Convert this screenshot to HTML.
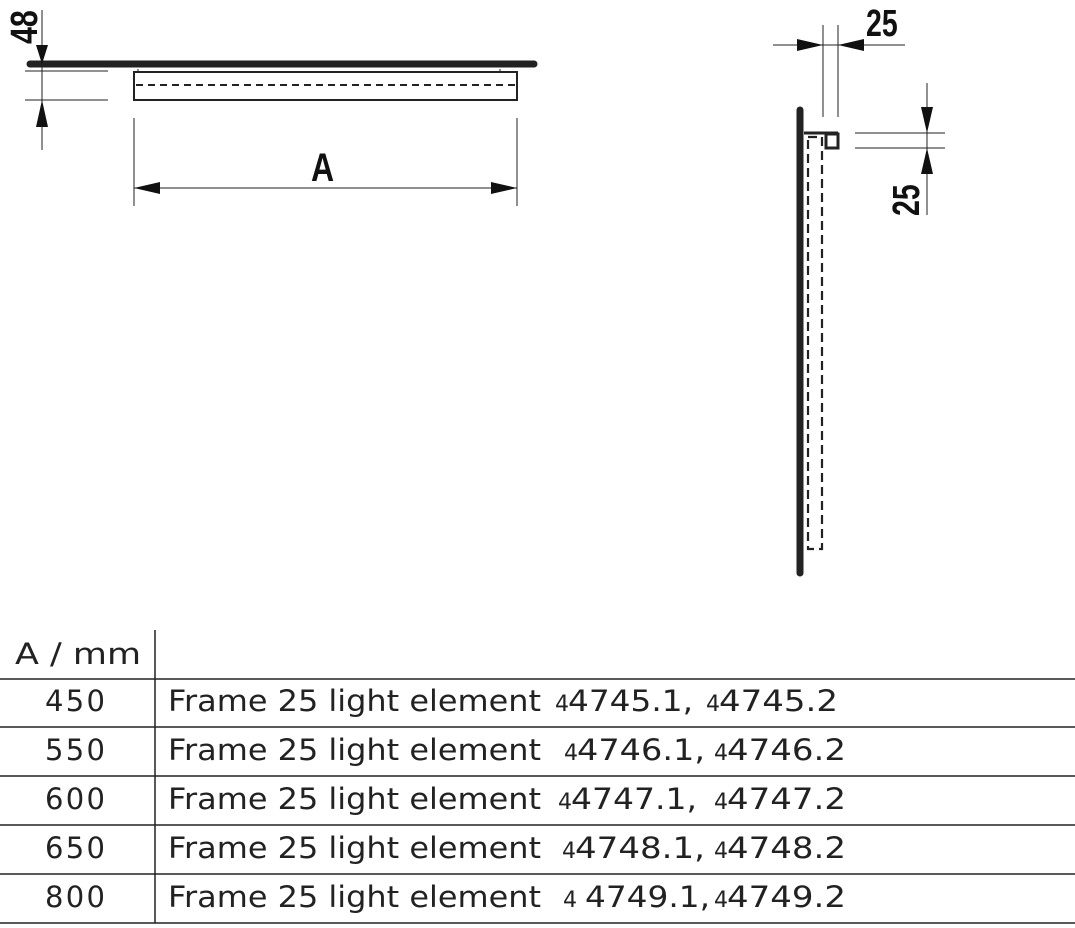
<!DOCTYPE html>
<html><head><meta charset="utf-8"><style>
html,body{margin:0;padding:0;background:#fff;}
svg{display:block;}
.t{font-family:"DejaVu Sans","Liberation Sans",sans-serif;font-size:29px;fill:#222;}
.s{font-size:22px;}
.b{font-family:"Liberation Sans",sans-serif;font-weight:bold;fill:#111;}
</style></head><body>
<svg width="1075" height="928" viewBox="0 0 1075 928" xmlns="http://www.w3.org/2000/svg">
<g stroke="#222" fill="none">
 <line x1="30" y1="64" x2="534" y2="64" stroke-width="7" stroke-linecap="round"/>
 <rect x="134" y="72" width="383" height="28" stroke-width="2"/>
 <line x1="136" y1="85" x2="515" y2="85" stroke-width="2" stroke-dasharray="7,5"/>
 <line x1="138" y1="69" x2="138" y2="72" stroke-width="1"/><line x1="500" y1="69" x2="500" y2="72" stroke-width="1"/>
 <line x1="42" y1="10" x2="42" y2="150" stroke-width="1"/>
 <line x1="25" y1="71" x2="108" y2="71" stroke-width="1"/>
 <line x1="25" y1="100" x2="108" y2="100" stroke-width="1"/>
 <line x1="134" y1="118" x2="134" y2="206" stroke-width="1"/>
 <line x1="517" y1="118" x2="517" y2="206" stroke-width="1"/>
 <line x1="134" y1="188" x2="517" y2="188" stroke-width="1"/>
 <line x1="800" y1="110" x2="800" y2="573" stroke-width="7" stroke-linecap="round"/>
 <line x1="804" y1="133" x2="838" y2="133" stroke-width="3"/>
 <rect x="826" y="134" width="12" height="14" stroke-width="3"/>
 <rect x="808" y="137" width="14" height="412" stroke-width="2.2" stroke-dasharray="9,5"/>
 <line x1="823" y1="25" x2="823" y2="117" stroke-width="1"/>
 <line x1="838" y1="25" x2="838" y2="117" stroke-width="1"/>
 <line x1="773" y1="45" x2="905" y2="45" stroke-width="1"/>
 <line x1="855" y1="133" x2="945" y2="133" stroke-width="1"/>
 <line x1="855" y1="148" x2="945" y2="148" stroke-width="1"/>
 <line x1="927" y1="83" x2="927" y2="215" stroke-width="1"/>
 <line x1="0" y1="679" x2="1075" y2="679" stroke-width="1.5"/>
 <line x1="0" y1="727" x2="1075" y2="727" stroke-width="1.5"/>
 <line x1="0" y1="776" x2="1075" y2="776" stroke-width="1.5"/>
 <line x1="0" y1="825" x2="1075" y2="825" stroke-width="1.5"/>
 <line x1="0" y1="874" x2="1075" y2="874" stroke-width="1.5"/>
 <line x1="0" y1="923" x2="1075" y2="923" stroke-width="1.5"/>
 <line x1="155" y1="630" x2="155" y2="923" stroke-width="1.5"/>
</g>
<g fill="#111">
 <polygon points="42,64 36,45 48,45"/>
 <polygon points="42,100 36,127 48,127"/>
 <polygon points="134,188 160,182 160,194"/>
 <polygon points="517,188 491,182 491,194"/>
 <polygon points="823,45 797,39 797,51"/>
 <polygon points="838,45 864,39 864,51"/>
 <polygon points="927,133 921,107 933,107"/>
 <polygon points="927,148 921,174 933,174"/>
</g>
<text class="b" font-size="38" transform="translate(37,44) rotate(-90) scale(0.8,1)">48</text>
<text class="b" font-size="40" transform="translate(311,181) scale(0.8,1)">A</text>
<text class="b" font-size="38" transform="translate(866,36) scale(0.75,1)">25</text>
<text class="b" font-size="38" transform="translate(919,216) rotate(-90) scale(0.75,1)">25</text>

<text class="t" x="15" y="664" textLength="126" lengthAdjust="spacingAndGlyphs">A / mm</text>
<g class="t">
 <text x="45" y="711" textLength="60">450</text>
 <text x="45" y="760" textLength="60">550</text>
 <text x="45" y="809" textLength="60">600</text>
 <text x="45" y="858" textLength="60">650</text>
 <text x="45" y="907" textLength="60">800</text>
 <text x="168" y="711" textLength="373" lengthAdjust="spacingAndGlyphs">Frame 25 light element</text>
 <text x="168" y="760" textLength="373" lengthAdjust="spacingAndGlyphs">Frame 25 light element</text>
 <text x="168" y="809" textLength="373" lengthAdjust="spacingAndGlyphs">Frame 25 light element</text>
 <text x="168" y="858" textLength="373" lengthAdjust="spacingAndGlyphs">Frame 25 light element</text>
 <text x="168" y="907" textLength="373" lengthAdjust="spacingAndGlyphs">Frame 25 light element</text>

 <text x="555" y="711"><tspan class="s">4</tspan><tspan x="568" textLength="125" lengthAdjust="spacingAndGlyphs">4745.1,</tspan><tspan class="s" x="706">4</tspan><tspan x="719" textLength="119" lengthAdjust="spacingAndGlyphs">4745.2</tspan></text>
 <text x="564" y="760"><tspan class="s">4</tspan><tspan x="577" textLength="128" lengthAdjust="spacingAndGlyphs">4746.1,</tspan><tspan class="s" x="714">4</tspan><tspan x="727" textLength="119" lengthAdjust="spacingAndGlyphs">4746.2</tspan></text>
 <text x="558" y="809"><tspan class="s">4</tspan><tspan x="571" textLength="126" lengthAdjust="spacingAndGlyphs">4747.1,</tspan><tspan class="s" x="714">4</tspan><tspan x="727" textLength="119" lengthAdjust="spacingAndGlyphs">4747.2</tspan></text>
 <text x="562" y="858"><tspan class="s">4</tspan><tspan x="575" textLength="130" lengthAdjust="spacingAndGlyphs">4748.1,</tspan><tspan class="s" x="714">4</tspan><tspan x="727" textLength="119" lengthAdjust="spacingAndGlyphs">4748.2</tspan></text>
 <text x="563" y="907"><tspan class="s">4</tspan><tspan x="585" textLength="125" lengthAdjust="spacingAndGlyphs">4749.1,</tspan><tspan class="s" x="714">4</tspan><tspan x="727" textLength="119" lengthAdjust="spacingAndGlyphs">4749.2</tspan></text>
</g>
</svg>
</body></html>
